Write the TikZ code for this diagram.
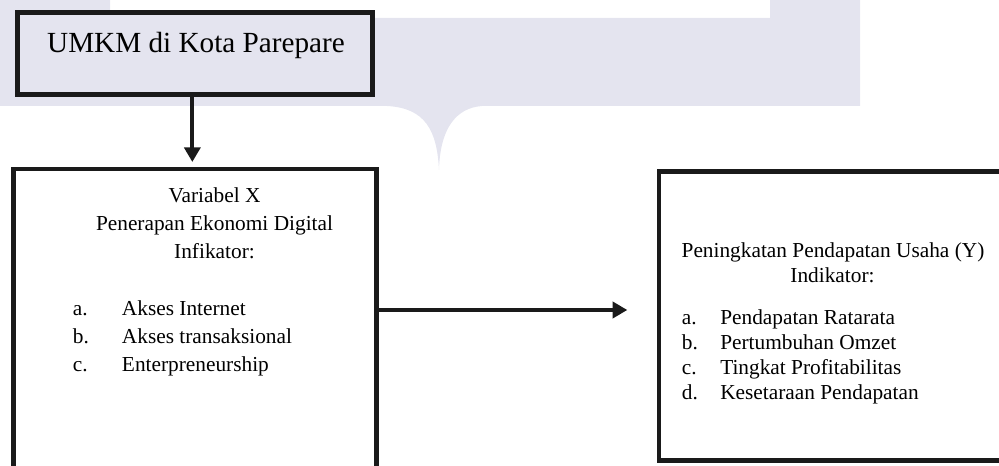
\documentclass[tikz,border=0pt]{standalone}
\usepackage{fontspec}
\setmainfont{Liberation Serif}
\usetikzlibrary{arrows.meta,positioning,calc}
\definecolor{wmark}{RGB}{228,228,239}
\definecolor{ink}{RGB}{26,26,26}

\begin{document}
\begin{tikzpicture}[
    x=0.75pt, y=-0.75pt,
    arr/.style={-{Triangle[length=11pt, width=12pt]}, line width=3pt, ink},
    boxline/.style={draw=ink, line width=3.5pt, inner sep=0pt},
    topbox/.style={boxline, fill=wmark, minimum width=266.6pt, minimum height=61.9pt},
    varbox/.style={boxline, fill=white},
    titlelbl/.style={font=\fontsize{21.9}{26}\selectfont, anchor=base, inner sep=0pt},
    lbl/.style={font=\fontsize{16}{19}\selectfont, anchor=base, inner sep=0pt},
    itemlbl/.style={lbl, anchor=base west},
  ]
    \clip (0,0) rectangle (999,466);

    % faint watermark behind the chart
    \fill[wmark] (0,0) -- (110,0) -- (110,18) -- (770,18) -- (770,0) -- (860,0)
      -- (860,106) -- (482,106) .. controls (455,108) and (440,130) .. (439,170)
      .. controls (437,130) and (425,108) .. (387,106) -- (0,106) -- cycle;

    % UMKM box
    \node[topbox] (umkm) at (195,53.5) {};
    \node[titlelbl] (umkmlbl) at (196,53) {UMKM di Kota Parepare};

    % Variabel X box
    \node[varbox, minimum width=272.25pt, minimum height=248.25pt] (varx) at (195,334.5) {};
    \node[lbl] (xl1) at (214.5,203) {Variabel X};
    \node[lbl] (xl2) at (214.5,231) {Penerapan Ekonomi Digital};
    \node[lbl] (xl3) at (214.5,258.5) {Infikator:};
    \foreach \m/\t [count=\i] in {a./Akses Internet, b./Akses transaksional, c./Enterpreneurship} {
      \node[itemlbl] (xm\i) at (72.7,287.3+28*\i) {\m};
      \node[itemlbl] (xi\i) at (121.7,287.3+28*\i) {\t};
    }

    % Variabel Y box
    \node[varbox, minimum width=261pt, minimum height=216.75pt] (indy) at (833,316) {};
    \node[lbl] (yl1) at (833,257.7) {Peningkatan Pendapatan Usaha (Y)};
    \node[lbl] (yl2) at (832.5,282.7) {Indikator:};
    \foreach \m/\t [count=\i] in {a./Pendapatan Ratarata, b./Pertumbuhan Omzet, c./Tingkat Profitabilitas, d./Kesetaraan Pendapatan} {
      \node[itemlbl] (ym\i) at (681.7,300.2+24.7*\i) {\m};
      \node[itemlbl] (yi\i) at (720,300.2+24.7*\i) {\t};
    }

    % connectors
    \draw[arr, shorten >=3.5pt] ([xshift=-2pt]umkm.south) -- ([xshift=-2pt]varx.north);
    \coordinate (armid) at (500,310);
    \draw[arr, shorten >=22pt] (varx.east |- armid) -- (armid -| indy.west);
\end{tikzpicture}
\end{document}
